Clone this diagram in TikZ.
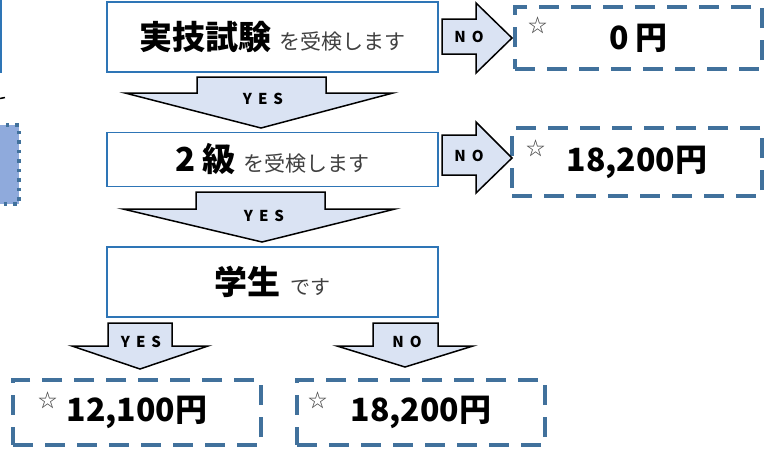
\documentclass[tikz,border=0pt]{standalone}
\usepackage{fontspec}
\setmainfont{Noto Sans CJK JP}
\newfontfamily\lblfont[LetterSpace=40]{Noto Sans CJK JP}
\usepackage{tikz}

\definecolor{boxblue}{RGB}{46,117,182}
\definecolor{dashblue}{RGB}{65,113,156}
\definecolor{arrowfill}{RGB}{218,227,243}
\definecolor{sidefill}{RGB}{143,170,220}
\definecolor{subgray}{RGB}{64,64,64}

\tikzset{
	askbox/.style={draw=boxblue, line width=1.5pt, fill=white, minimum width=331pt, inner sep=0pt},
	result/.style={draw=dashblue, line width=4pt, dash pattern=on 20pt off 12pt, minimum height=65pt, inner sep=0pt, font=\bfseries\fontsize{32}{32}\selectfont},
	blockarrow/.style={draw=black, line width=1.5pt, fill=arrowfill, line join=miter},
	yesno/.style={font=\lblfont\bfseries\fontsize{15}{15}\selectfont},
	star/.style={text=subgray, font=\fontsize{19}{19}\selectfont}
}

\newcommand{\asktxt}[1]{{\bfseries\fontsize{33}{33}\selectfont #1}}
\newcommand{\subtxt}[1]{{\color{subgray}\fontsize{21}{21}\selectfont #1}}

\begin{document}
\begin{tikzpicture}[x=1pt, y=-1pt]
				\useasboundingbox (0,0) rectangle (765,448);
				\clip (0,0) rectangle (765,448);
				% cut-off parts on the left
				\draw[boxblue, line width=1.5pt] (-120,-10) rectangle (0.8,72);
				\draw[black, line width=1.5pt] (0,98.5) -- (5,97.5);
				\filldraw[fill=sidefill, draw=dashblue, line width=3.5pt, dash pattern=on 3.5pt off 6pt] (-60,125) rectangle (19,204);
				% question boxes
				\node[askbox, minimum height=70pt] (jitsugi) at (272.5,37) {\asktxt{実技試験}\hspace{8pt}\subtxt{を受検します}};
				\node[askbox, minimum height=54pt] (nikyu) at (272.5,159.5) {\asktxt{2 級}\hspace{8pt}\subtxt{を受検します}};
				\node[askbox, minimum height=70pt] (gakusei) at (272.5,282) {\asktxt{学生}\hspace{10pt}\subtxt{\fontsize{20}{20}\selectfont です}};
				% results
				\foreach \pos/\name/\w/\h/\txt in {(638.5,38)/res0/247/62/{0 円}, (637,162)/res1/250/68/{18,200円}, (137,412.5)/res2/248/65/{12,100円}, (421,412.5)/res3/248/65/{18,200円}}
				\node[result, minimum width=\w pt, minimum height=\h pt] (\name) at \pos {\txt};
				\foreach \pos/\name in {(538,25)/star0, (536,148)/star1, (48,400)/star2, (318,400)/star3}
				\node[star] (\name) at \pos {☆};
				% YES / NO arrows
				\draw[blockarrow] (197,77) -- (326,77) -- (326,93) -- (393,93) -- (261,128) -- (125,93) -- (197,93) -- cycle;
				\node[yesno] (yes1) at (263,99) {YES};
				\draw[blockarrow] (196,192) -- (325,192) -- (325,209) -- (395,209) -- (262,242) -- (123,209) -- (196,209) -- cycle;
				\node[yesno] (yes2) at (264,216) {YES};
				\draw[blockarrow] (108,323) -- (172,323) -- (172,346) -- (208,346) -- (140,369) -- (72,346) -- (108,346) -- cycle;
				\node[yesno] (yes3) at (141,342) {YES};
				\draw[blockarrow] (373,323) -- (438,323) -- (438,346) -- (473,346) -- (405,367) -- (337,346) -- (373,346) -- cycle;
				\node[yesno] (no3) at (407,342) {NO};
				\draw[blockarrow] (442,19) -- (476,19) -- (476,3) -- (512,38) -- (476,73) -- (476,54) -- (442,54) -- cycle;
				\node[yesno] (no1) at (469,37) {NO};
				\draw[blockarrow] (442,135) -- (476,135) -- (476,122) -- (512,158) -- (476,193) -- (476,175) -- (442,175) -- cycle;
				\node[yesno] (no2) at (469,156) {NO};
			\end{tikzpicture}
\end{document}
